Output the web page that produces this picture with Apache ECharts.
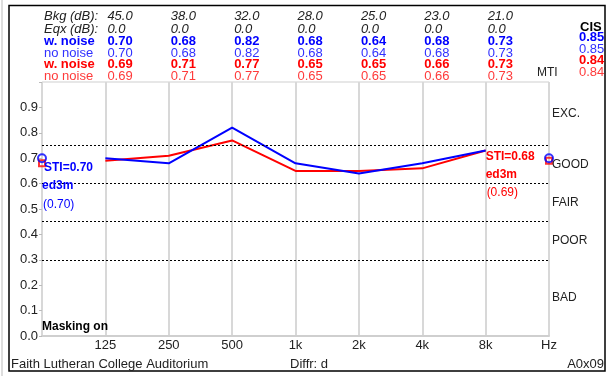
<!DOCTYPE html>
<html>
<head>
    <meta charset="utf-8">
    <title>STI chart</title>
    <script src="https://cdn.jsdelivr.net/npm/echarts@6/dist/echarts.min.js"></script>
    <style>
        body { margin: 0; background: #fff; }
    </style>
</head>
<body>
<div id="main" style="width: 607px;height:376px;"></div>
<script type="text/javascript">
    // axis positions: 0 = STI (left), 1..7 = octave bands, 8 = Hz / STI (right)
    var xLabels = ['', '125', '250', '500', '1k', '2k', '4k', '8k', 'Hz'];
    var bkgDb = ['45.0', '38.0', '32.0', '28.0', '25.0', '23.0', '21.0'];
    var eqxDb = ['0.0', '0.0', '0.0', '0.0', '0.0', '0.0', '0.0'];
    var blueWithNoise = [0.70, 0.68, 0.82, 0.68, 0.64, 0.68, 0.73];
    var blueNoNoise = [0.70, 0.68, 0.82, 0.68, 0.64, 0.68, 0.73];
    var redWithNoise = [0.69, 0.71, 0.77, 0.65, 0.65, 0.66, 0.73];
    var redNoNoise = [0.69, 0.71, 0.77, 0.65, 0.65, 0.66, 0.73];
    var cisValues = ['0.85', '0.85', '0.84', '0.84'];
    var bandLimits = [0.75, 0.60, 0.45, 0.30];
    var ratingNames = ['EXC.', 'GOOD', 'FAIR', 'POOR', 'BAD'];
    var ratingMids = [0.875, 0.675, 0.525, 0.375, 0.15];
    var stiBlue = [0.70, 0.70];   // left, right
    var stiRed = [0.68, 0.69];
    var blueText = ['STI=0.70', 'ed3m', '(0.70)'];
    var redText = ['STI=0.68', 'ed3m', '(0.69)'];

    var BLUE = '#0000ff', BLUE2 = '#3030ff', RED = '#ff0000', RED2 = '#ff3a3a';
    var FONT = '"Liberation Sans", Arial, sans-serif';

    function toPairs(arr) {
        var out = [];
        for (var i = 0; i < arr.length; i++) out.push([i + 1, arr[i]]);
        return out;
    }

    var myChart = echarts.init(document.getElementById('main'), null, {renderer: 'canvas'});

    var option = {
        animation: false,
        backgroundColor: '#fff',
        grid: {
            left: 42, right: 58, top: 82, bottom: 40,
            show: true, borderColor: '#cfcfcf', borderWidth: 1,
            containLabel: false
        },
        xAxis: {
            type: 'value', min: 0, max: 8, interval: 1,
            axisLine: {show: true, lineStyle: {color: '#cfcfcf', width: 2}},
            axisTick: {show: false},
            splitLine: {show: true, lineStyle: {color: '#d8d8d8', width: 2}},
            axisLabel: {
                margin: 3, color: '#222', fontSize: 13, fontFamily: FONT,
                formatter: function (v) { return xLabels[Math.round(v)] || ''; }
            }
        },
        yAxis: {
            type: 'value', min: 0, max: 1, interval: 0.1,
            axisLine: {show: false},
            axisTick: {show: true, length: 3, lineStyle: {color: '#bbb'}},
            splitLine: {show: false},
            axisLabel: {
                margin: 4, color: '#222', fontSize: 13, fontFamily: FONT,
                formatter: function (v) { return v > 0.95 ? '' : v.toFixed(1); }
            }
        },
        series: [
            {
                type: 'line', data: [], silent: true,
                markLine: {
                    silent: true, symbol: 'none', label: {show: false},
                    lineStyle: {color: '#000', type: [2, 2], width: 1},
                    data: bandLimits.map(function (v) { return {yAxis: v}; })
                }
            },
            {
                name: 'red', type: 'line', data: toPairs(redWithNoise),
                showSymbol: false, lineStyle: {color: RED, width: 2}, z: 3
            },
            {
                name: 'blue', type: 'line', data: toPairs(blueWithNoise),
                showSymbol: false, lineStyle: {color: BLUE, width: 2}, z: 4
            },
            {
                type: 'scatter', symbol: 'rect', symbolSize: 6, z: 5,
                itemStyle: {color: 'rgba(0,0,0,0)', borderColor: RED, borderWidth: 2},
                data: [[0, stiRed[0]], [8, stiRed[1]]]
            },
            {
                type: 'scatter', symbol: 'circle', symbolSize: 8, z: 6,
                itemStyle: {color: 'rgba(0,0,0,0)', borderColor: BLUE, borderWidth: 2},
                data: [[0, stiBlue[0]], [8, stiBlue[1]]]
            }
        ]
    };
    myChart.setOption(option);

    function px(x, y) { return myChart.convertToPixel({gridIndex: 0}, [x, y]); }
    function txt(s, x, y, color, font, align) {
        return {
            type: 'text', silent: true, z: 10,
            style: {
                text: s, x: x, y: y, fill: color, font: font,
                textAlign: align || 'left', textVerticalAlign: 'middle'
            }
        };
    }

    var g = [];
    // outer frame
    g.push({type: 'rect', shape: {x: 9, y: 5.5, width: 596, height: 365.5},
        style: {fill: 'none', stroke: '#000', lineWidth: 1.5}, z: 1});
    g.push({type: 'line', shape: {x1: 2, y1: 0, x2: 2, y2: 376},
        style: {stroke: '#bbb', lineWidth: 1}, z: 1});

    // header table
    var rowY = [16.5, 29, 41.5, 53, 64.5, 76];
    var rowLabels = ['Bkg (dB):', 'Eqx (dB):', 'w. noise', 'no noise', 'w. noise', 'no noise'];
    var rowColors = ['#222', '#222', BLUE, BLUE2, RED, RED2];
    var rowFonts = ['italic 13px', 'italic 13px', 'bold 13px', '13px', 'bold 13px', '13px'];
    var rowData = [bkgDb, eqxDb,
        blueWithNoise.map(function (v) { return v.toFixed(2); }),
        blueNoNoise.map(function (v) { return v.toFixed(2); }),
        redWithNoise.map(function (v) { return v.toFixed(2); }),
        redNoNoise.map(function (v) { return v.toFixed(2); })];
    for (var r = 0; r < rowY.length; r++) {
        var f = rowFonts[r] + ' ' + FONT;
        g.push(txt(rowLabels[r], 44, rowY[r], rowColors[r], f));
        for (var c = 0; c < rowData[r].length; c++) {
            g.push(txt(rowData[r][c], px(c + 1, 0)[0] + 2, rowY[r], rowColors[r], f));
        }
    }
    g.push(txt('CIS', 580, 27, '#000', 'bold 13px ' + FONT));
    var cisColors = [BLUE, BLUE2, RED, RED2];
    var cisFonts = ['bold 13px ', '13px ', 'bold 13px ', '13px '];
    for (var k = 0; k < cisValues.length; k++) {
        g.push(txt(cisValues[k], 579, rowY[k + 2] - 4, cisColors[k], cisFonts[k] + FONT));
    }
    g.push(txt('MTI', 537, 73, '#222', '12px ' + FONT));

    // rating names on the right
    for (var q = 0; q < ratingNames.length; q++) {
        var p = px(8, ratingMids[q]);
        g.push(txt(ratingNames[q], p[0] + 3, p[1], '#222', '12px ' + FONT));
    }

    // STI annotations
    var pb = px(0, stiBlue[0]);
    g.push(txt(blueText[0], pb[0] + 2, pb[1] + 9, BLUE, 'bold 12px ' + FONT));
    g.push(txt(blueText[1], pb[0], pb[1] + 27, BLUE, 'bold 12px ' + FONT));
    g.push(txt(blueText[2], pb[0] + 1, pb[1] + 46, BLUE, '12px ' + FONT));
    var pr = px(7, stiRed[1]);
    g.push(txt(redText[0], pr[0], pr[1] - 4, RED, 'bold 12px ' + FONT));
    g.push(txt(redText[1], pr[0], pr[1] + 14, RED, 'bold 12px ' + FONT));
    g.push(txt(redText[2], pr[0] + 1, pr[1] + 32, RED, '12px ' + FONT));

    g.push(txt('Masking on', px(0, 0)[0], 327, '#000', 'bold 12px ' + FONT));

    // footer
    g.push(txt('Faith Lutheran College Auditorium', 11, 364, '#222', '13px ' + FONT));
    g.push(txt('Diffr: d', 290, 364, '#222', '13px ' + FONT));
    g.push(txt('A0x09', 604, 364, '#222', '13px ' + FONT, 'right'));

    myChart.setOption({graphic: g});
</script>
</body>
</html>
